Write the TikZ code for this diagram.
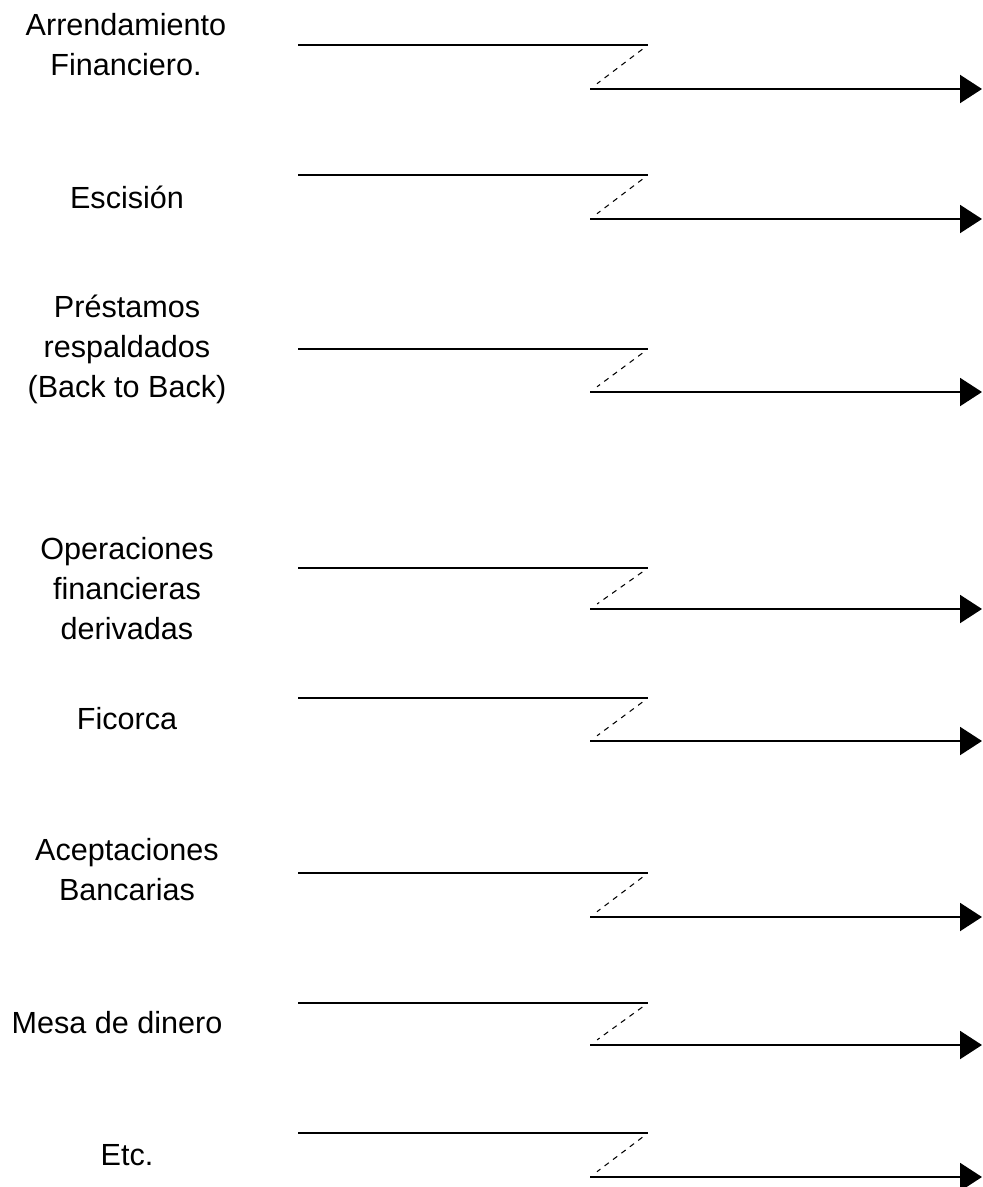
\documentclass[tikz,border=0pt]{standalone}
\usepackage{fontspec}
\setmainfont{Liberation Sans}
\usetikzlibrary{arrows.meta}

\begin{document}
\begin{tikzpicture}[x=0.02cm, y=-0.02cm,
    label/.style={align=center, inner sep=0pt, font=\fontsize{17.4}{22.8}\selectfont},
    topline/.style={line width=0.9pt},
    link/.style={line width=0.6pt, dash pattern=on 3pt off 3pt, shorten <=4pt, shorten >=5pt},
    flow/.style={line width=1.2pt, -{Triangle[length=0.44cm, width=0.56cm]}}]
      \useasboundingbox (0,0) rectangle (983,1187);

      % labels on the left
      \node[label] (arrend) at (126,45) {Arrendamiento\\Financiero.};
      \node[label] (escis) at (127,197) {Escisión};
      \node[label] (prest) at (127,349) {Préstamos\\respaldados\\(Back to Back)};
      \node[label] (operac) at (127,589) {Operaciones\\financieras\\derivadas};
      \node[label] (ficorca) at (127,719) {Ficorca};
      \node[label] (acept) at (127,870) {Aceptaciones\\Bancarias};
      \node[label] (mesa) at (117,1023) {Mesa de dinero};
      \node[label] (etc) at (127,1155) {Etc.};

      % one broken arrow per row
      \foreach \t/\b [count=\i] in {45/89, 175/219, 349/392, 568/609,
                                   698/741, 873/917, 1003/1045, 1133/1177} {
        \coordinate (s\i) at (298,\t);
        \coordinate (k\i) at (648,\t);
        \coordinate (j\i) at (590,\b);
        \coordinate (e\i) at (982,\b);
        \draw[topline] (s\i) -- (k\i);
        \draw[link] (k\i) -- (j\i);
        \draw[flow] (j\i) -- (e\i);
      }
    \end{tikzpicture}
\end{document}
